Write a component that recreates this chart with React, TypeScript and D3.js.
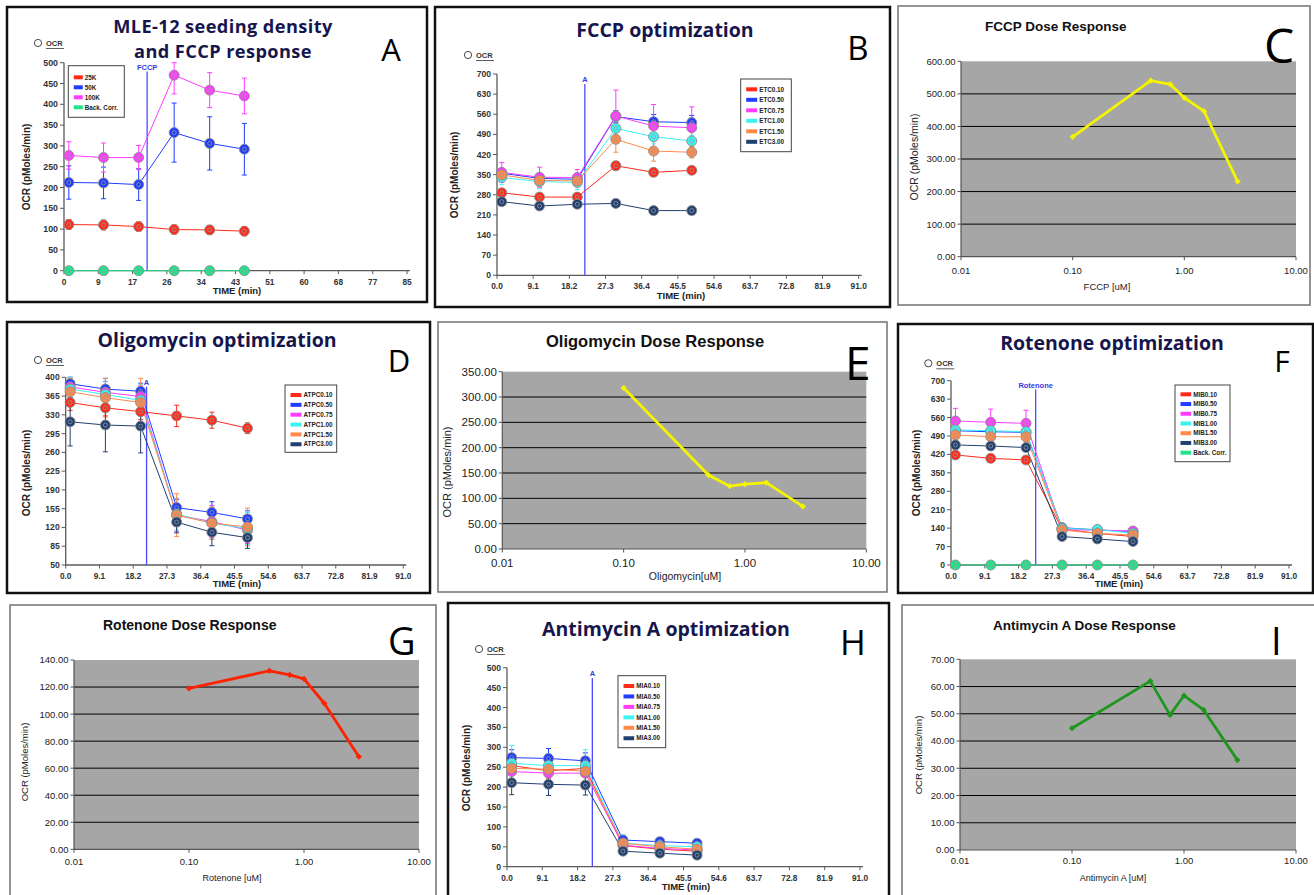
import React from 'react';
import * as d3 from 'd3';

// ---------- shared axes ----------
const timesA = [1.2, 9.8, 18.5, 27.3, 36.1, 44.7];
const xTicksA = [0, 8.5, 17, 25.5, 34, 42.5, 51, 59.5, 68, 76.5, 85];
const timesOpt = [1.2, 10.7, 20.2, 29.9, 39.4, 49.0];
const xTicksOpt = [0, 9.1, 18.2, 27.3, 36.4, 45.5, 54.6, 63.7, 72.8, 81.9, 91.0];
const doses = [0.1, 0.5, 0.75, 1.0, 1.5, 3.0];
const doseTicks = [0.01, 0.1, 1, 10];

// ---------- A: seeding density ----------
const namesA = ['25K', '50K', '100K', 'Back. Corr.'];
const ocr25K = [111, 110, 106, 99, 98, 95];
const err25K = [12, 12, 11, 11, 11, 11];
const ocr50K = [212, 211, 207, 332, 306, 292];
const err50K = [40, 38, 38, 71, 64, 62];
const ocr100K = [277, 272, 272, 470, 434, 420];
const err100K = [33, 35, 29, 45, 42, 43];
const ocrBackA = [0, 0, 0, 0, 0, 0];

// ---------- B: FCCP optimization ----------
const namesB = ['ETC0.10', 'ETC0.50', 'ETC0.75', 'ETC1.00', 'ETC1.50', 'ETC3.00'];
const etc010 = [287, 272, 272, 381, 358, 365];
const etc050 = [355, 337, 334, 552, 534, 531];
const etc075 = [358, 341, 340, 554, 519, 513];
const etc100 = [340, 326, 323, 511, 482, 467];
const etc150 = [349, 330, 328, 473, 432, 428];
const etc300 = [256, 241, 247, 250, 225, 225];
const etcErr010 = [10, 10, 10, 15, 12, 12];
const etcErr050 = [15, 15, 15, 20, 25, 25];
const etcErr075 = [34, 35, 28, 90, 75, 73];
const etcErr100 = [25, 25, 25, 30, 25, 20];
const etcErr150 = [20, 20, 20, 45, 35, 20];
const etcErr300 = [10, 8, 8, 10, 12, 12];

// ---------- D: Oligomycin optimization ----------
const namesD = ['ATPC0.10', 'ATPC0.50', 'ATPC0.75', 'ATPC1.00', 'ATPC1.50', 'ATPC3.00'];
const atpc010 = [353, 343, 336, 328, 320, 305];
const atpc050 = [388, 378, 374, 157, 148, 136];
const atpc075 = [382, 372, 364, 143, 131, 115];
const atpc100 = [378, 368, 357, 145, 128, 118];
const atpc150 = [373, 362, 353, 143, 128, 121];
const atpc300 = [317, 311, 309, 130, 111, 101];
const atpcErr010 = [15, 15, 15, 20, 15, 10];
const atpcErr050 = [15, 20, 15, 15, 20, 15];
const atpcErr075 = [25, 20, 20, 30, 30, 25];
const atpcErr100 = [25, 25, 30, 30, 30, 30];
const atpcErr150 = [25, 36, 45, 40, 30, 35];
const atpcErr300 = [45, 50, 50, 20, 25, 20];

// ---------- F: Rotenone optimization ----------
const namesF = ['MIB0.10', 'MIB0.50', 'MIB0.75', 'MIB1.00', 'MIB1.50', 'MIB3.00', 'Back. Corr.'];
const mib010 = [418, 405, 399, 137, 120, 108];
const mib050 = [510, 506, 504, 142, 133, 127];
const mib075 = [547, 542, 538, 133, 133, 129];
const mib100 = [513, 510, 506, 139, 135, 120];
const mib150 = [494, 487, 487, 133, 120, 114];
const mib300 = [456, 452, 446, 108, 99, 89];
const mibBack = [0, 0, 0, 0, 0, 0];
const mibErr010 = [15, 15, 12, 10, 10, 10];
const mibErr050 = [15, 15, 15, 10, 10, 8];
const mibErr075 = [48, 50, 50, 10, 10, 8];
const mibErr100 = [15, 15, 15, 10, 10, 8];
const mibErr150 = [20, 20, 20, 10, 10, 8];
const mibErr300 = [15, 15, 15, 10, 15, 10];

// ---------- H: Antimycin A optimization ----------
const namesH = ['MIA0.10', 'MIA0.50', 'MIA0.75', 'MIA1.00', 'MIA1.50', 'MIA3.00'];
const mia010 = [254, 241, 247, 53, 44, 39];
const mia050 = [274, 272, 266, 67, 63, 59];
const mia075 = [239, 235, 235, 54, 46, 42];
const mia100 = [260, 254, 254, 59, 53, 50];
const mia150 = [247, 245, 240, 59, 50, 44];
const mia300 = [211, 207, 205, 39, 34, 29];
const miaErr010 = [20, 20, 20, 10, 10, 8];
const miaErr050 = [20, 25, 20, 12, 10, 8];
const miaErr075 = [30, 25, 25, 10, 10, 10];
const miaErr100 = [45, 30, 40, 20, 10, 8];
const miaErr150 = [30, 30, 30, 10, 10, 8];
const miaErr300 = [30, 28, 25, 8, 8, 8];

// ---------- dose responses ----------
const fccpDose = [368, 541, 529, 488, 447, 231];
const oligoDose = [318, 146, 124, 128, 131, 84];
const rotDose = [119, 132, 129, 126, 108, 68.5];
const antiDose = [44.7, 62, 49.6, 56.7, 51.4, 33];

const RED = '#ff2a1a';
const BLUE = '#1f3cff';
const MAG = '#ff3cff';
const CYAN = '#3cf2f2';
const ORANGE = '#ff8a4a';
const NAVY = '#1f4070';
const GREEN = '#1ee58a';
const sixColors = [RED, BLUE, MAG, CYAN, ORANGE, NAVY];

const SANS = 'Liberation Sans, Arial, sans-serif';
const TFONT = '"Open Sans", sans-serif';
const NAVYTEXT = '#16164d';

type Series = { name: string; color: string; values: number[]; err: number[] };

const mk = (names: string[], vals: number[][], errs: number[][], colors: string[]): Series[] =>
  names.map((n, i) => ({ name: n, color: colors[i], values: vals[i], err: errs[i] }));

const zero = [0, 0, 0, 0, 0, 0];

const seriesA = mk(namesA, [ocr25K, ocr50K, ocr100K, ocrBackA], [err25K, err50K, err100K, zero], [RED, BLUE, MAG, GREEN]);
const seriesB = mk(namesB, [etc010, etc050, etc075, etc100, etc150, etc300],
  [etcErr010, etcErr050, etcErr075, etcErr100, etcErr150, etcErr300], sixColors);
const seriesD = mk(namesD, [atpc010, atpc050, atpc075, atpc100, atpc150, atpc300],
  [atpcErr010, atpcErr050, atpcErr075, atpcErr100, atpcErr150, atpcErr300], sixColors);
const seriesF = mk(namesF, [mib010, mib050, mib075, mib100, mib150, mib300, mibBack],
  [mibErr010, mibErr050, mibErr075, mibErr100, mibErr150, mibErr300, zero], [...sixColors, GREEN]);
const seriesH = mk(namesH, [mia010, mia050, mia075, mia100, mia150, mia300],
  [miaErr010, miaErr050, miaErr075, miaErr100, miaErr150, miaErr300], sixColors);

interface OptCfg {
  frame: number[];
  title: string[]; titleX: number; titleY: number[]; titleSize: number; titleSpacing: number;
  letter: string; letterX: number; letterY: number; letterSize: number;
  plot: number[]; // x0, x1, yBottom, yTop
  xMax: number; xTicks: number[]; xFmt: (v: number) => string;
  yDomain: number[]; yTicks: number[]; yFont: number;
  times: number[]; series: Series[];
  legend: number[]; // x, y, w, h, row0, step, swatch width
  inj: { t: number; label: string; y: number };
  ocr: number[];
  xLabelY: number; timeX: number; timeY: number; yTitleX: number; yTitleY: number;
}

function OptPanel({ c }: { c: OptCfg }) {
  const [px0, px1, pyB, pyT] = c.plot;
  const x = d3.scaleLinear().domain([0, c.xMax]).range([px0, px1]);
  const y = d3.scaleLinear().domain(c.yDomain).range([pyB, pyT]).clamp(true);
  const line = d3.line<number>().x((_, i) => x(c.times[i])).y((v) => y(v));
  const [lx, ly, lw, lh, row0, step, sw] = c.legend;
  const axis = '#5a5a5a';
  return (
    <g>
      <rect x={c.frame[0]} y={c.frame[1]} width={c.frame[2]} height={c.frame[3]} fill="#fff" stroke="#111" strokeWidth={2.5} />
      {c.title.map((t, i) => (
        <text key={t} x={c.titleX} y={c.titleY[i]} textAnchor="middle" fontFamily={TFONT} fontWeight={700}
          fontSize={c.titleSize} letterSpacing={c.titleSpacing} fill={NAVYTEXT}>{t}</text>
      ))}
      <text x={c.letterX} y={c.letterY} textAnchor="middle" fontFamily={TFONT} fontSize={c.letterSize} fill="#000">{c.letter}</text>
      <circle cx={c.ocr[0]} cy={c.ocr[1]} r={3.6} fill="none" stroke="#333" strokeWidth={0.9} />
      <text x={c.ocr[0] + 8} y={c.ocr[1] + 2.8} fontFamily={SANS} fontWeight={700} fontSize={7.5} fill="#333">OCR</text>
      <line x1={c.ocr[0] + 8} x2={c.ocr[0] + 26} y1={c.ocr[1] + 5.5} y2={c.ocr[1] + 5.5} stroke="#333" strokeWidth={0.8} />
      {/* y axis */}
      <line x1={px0} x2={px0} y1={pyB} y2={pyT} stroke={axis} strokeWidth={1.3} />
      {c.yTicks.map((v) => (
        <g key={'y' + v}>
          <line x1={px0 - 4} x2={px0} y1={y(v)} y2={y(v)} stroke={axis} strokeWidth={1} />
          <text x={px0 - 6} y={y(v) + 3} textAnchor="end" fontFamily={SANS} fontWeight={700} fontSize={c.yFont} fill="#333">{v}</text>
        </g>
      ))}
      {/* x axis */}
      <line x1={px0} x2={px1 + 3} y1={pyB} y2={pyB} stroke={axis} strokeWidth={1.3} />
      {c.xTicks.map((v) => (
        <g key={'x' + v}>
          <line x1={x(v)} x2={x(v)} y1={pyB} y2={pyB + 3.5} stroke={axis} strokeWidth={1} />
          <text x={x(v)} y={c.xLabelY} textAnchor="middle" fontFamily={SANS} fontWeight={700} fontSize={8.3} fill="#333">{c.xFmt(v)}</text>
        </g>
      ))}
      <text x={c.timeX} y={c.timeY} textAnchor="middle" fontFamily={SANS} fontWeight={700} fontSize={9.5} fill="#222">TIME (min)</text>
      <text transform={`translate(${c.yTitleX},${c.yTitleY}) rotate(-90)`} textAnchor="middle" fontFamily={SANS} fontWeight={700} fontSize={10} fill="#222">OCR (pMoles/min)</text>
      {/* injection */}
      <line x1={x(c.inj.t)} x2={x(c.inj.t)} y1={c.inj.y + 2} y2={pyB} stroke="#4a4aff" strokeWidth={1.3} />
      <text x={x(c.inj.t)} y={c.inj.y} textAnchor="middle" fontFamily={SANS} fontWeight={700} fontSize={7.5} fill="#3a3ae0">{c.inj.label}</text>
      {/* series */}
      {c.series.map((s) => (
        <g key={s.name}>
          <path d={line(s.values) || ''} fill="none" stroke={s.color} strokeWidth={1} />
          {s.values.map((v, i) => s.err[i] > 0 && (
            <g key={i} stroke={s.color} strokeWidth={1}>
              <line x1={x(c.times[i])} x2={x(c.times[i])} y1={y(v - s.err[i])} y2={y(v + s.err[i])} />
              <line x1={x(c.times[i]) - 2.5} x2={x(c.times[i]) + 2.5} y1={y(v - s.err[i])} y2={y(v - s.err[i])} />
              <line x1={x(c.times[i]) - 2.5} x2={x(c.times[i]) + 2.5} y1={y(v + s.err[i])} y2={y(v + s.err[i])} />
            </g>
          ))}
        </g>
      ))}
      {c.series.map((s) => (
        <g key={s.name + 'm'}>
          {s.values.map((v, i) => (
            <g key={i}>
              <circle cx={x(c.times[i])} cy={y(v)} r={5} fill={s.color} stroke="#8c8c8c" strokeWidth={0.9} />
              <circle cx={x(c.times[i])} cy={y(v)} r={2} fill="none" stroke="#9a9a9a" strokeWidth={0.8} />
            </g>
          ))}
        </g>
      ))}
      {/* legend */}
      <rect x={lx} y={ly} width={lw} height={lh} fill="#fff" stroke="#444" strokeWidth={1} />
      {c.series.map((s, i) => (
        <g key={s.name + 'l'}>
          <rect x={lx + 5.5} y={row0 + i * step - 2} width={sw} height={4} fill={s.color} />
          <text x={lx + 7.5 + sw} y={row0 + i * step + 2.2} fontFamily={SANS} fontWeight={700} fontSize={6.3} fill="#222">{s.name}</text>
        </g>
      ))}
    </g>
  );
}

interface DoseCfg {
  frame: number[];
  plot: number[];
  yMax: number; yTicks: number[]; tickFont: number;
  values: number[]; color: string;
  title: string; titleX: number; titleY: number; titleSize: number;
  letter: string; letterX: number; letterY: number; letterSize: number;
  xTitle: string; xTitleX: number; xTitleY: number; xTitleSize: number;
  yTitleX: number; yTitleY: number; yTitleSize: number;
  xLabelY: number;
}

function DosePanel({ c }: { c: DoseCfg }) {
  const [px0, px1, pyB, pyT] = c.plot;
  const x = d3.scaleLog().domain([0.01, 10]).range([px0, px1]);
  const y = d3.scaleLinear().domain([0, c.yMax]).range([pyB, pyT]);
  const line = d3.line<number>().x((_, i) => x(doses[i])).y((v) => y(v));
  return (
    <g>
      <rect x={c.frame[0]} y={c.frame[1]} width={c.frame[2]} height={c.frame[3]} fill="#fff" stroke="#7a7a7a" strokeWidth={1.6} />
      <text x={c.titleX} y={c.titleY} fontFamily={SANS} fontWeight={700} fontSize={c.titleSize} fill="#111">{c.title}</text>
      <rect x={px0} y={pyT} width={px1 - px0} height={pyB - pyT} fill="#a6a6a6" />
      {c.yTicks.filter((v) => v > 0 && v < c.yMax).map((v) => (
        <line key={'g' + v} x1={px0} x2={px1} y1={y(v)} y2={y(v)} stroke="#000" strokeWidth={1} />
      ))}
      <line x1={px0} x2={px0} y1={pyT} y2={pyB} stroke="#555" strokeWidth={1.2} />
      <line x1={px0} x2={px1} y1={pyB} y2={pyB} stroke="#555" strokeWidth={1.2} />
      {c.yTicks.map((v) => (
        <g key={'y' + v}>
          <line x1={px0 - 3.5} x2={px0} y1={y(v)} y2={y(v)} stroke="#555" strokeWidth={1} />
          <text x={px0 - 5.5} y={y(v) + c.tickFont * 0.36} textAnchor="end" fontFamily={SANS} fontSize={c.tickFont} fill="#222">{v.toFixed(2)}</text>
        </g>
      ))}
      {doseTicks.map((v) => (
        <g key={'x' + v}>
          <line x1={x(v)} x2={x(v)} y1={pyB} y2={pyB + 3.5} stroke="#555" strokeWidth={1} />
          <text x={x(v)} y={c.xLabelY} textAnchor="middle" fontFamily={SANS} fontSize={c.tickFont} fill="#222">{v.toFixed(2)}</text>
        </g>
      ))}
      <text x={c.xTitleX} y={c.xTitleY} textAnchor="middle" fontFamily={SANS} fontSize={c.xTitleSize} fill="#222">{c.xTitle}</text>
      <text transform={`translate(${c.yTitleX},${c.yTitleY}) rotate(-90)`} textAnchor="middle" fontFamily={SANS} fontSize={c.yTitleSize} fill="#222">OCR (pMoles/min)</text>
      <path d={line(c.values) || ''} fill="none" stroke={c.color} strokeWidth={2.8} strokeLinejoin="round" />
      {c.values.map((v, i) => (
        <rect key={i} x={x(doses[i]) - 2.2} y={y(v) - 2.2} width={4.4} height={4.4} fill={c.color}
          transform={`rotate(45 ${x(doses[i])} ${y(v)})`} />
      ))}
      <text x={c.letterX} y={c.letterY} fontFamily={TFONT} fontSize={c.letterSize} fill="#000">{c.letter}</text>
    </g>
  );
}

const fmtInt = (v: number) => String(Math.round(v));
const fmt1 = (v: number) => v.toFixed(1);

const cfgA: OptCfg = {
  frame: [7, 7, 420, 295],
  title: ['MLE-12 seeding density', 'and FCCP response'], titleX: 223, titleY: [32.5, 57.5], titleSize: 18.2, titleSpacing: 0.4,
  letter: 'A', letterX: 391, letterY: 61, letterSize: 31,
  plot: [64, 407, 270.7, 62.7], xMax: 85, xTicks: xTicksA, xFmt: fmtInt,
  yDomain: [0, 500], yTicks: d3.range(0, 501, 50), yFont: 8.8,
  times: timesA, series: seriesA,
  legend: [68.3, 65.7, 56, 51.6, 77.3, 10, 9],
  inj: { t: 20.6, label: 'FCCP', y: 69.5 }, ocr: [38, 43],
  xLabelY: 284.5, timeX: 237, timeY: 293.5, yTitleX: 30, yTitleY: 167,
};

const cfgB: OptCfg = {
  frame: [435, 7, 455, 300],
  title: ['FCCP optimization'], titleX: 665, titleY: [37], titleSize: 19.5, titleSpacing: 0,
  letter: 'B', letterX: 858, letterY: 60, letterSize: 33,
  plot: [497, 858.7, 275.3, 74], xMax: 91, xTicks: xTicksOpt, xFmt: fmt1,
  yDomain: [0, 700], yTicks: d3.range(0, 701, 70), yFont: 8.6,
  times: timesOpt, series: seriesB,
  legend: [740.7, 79, 50.6, 72.7, 89.3, 10.5, 11],
  inj: { t: 22.1, label: 'A', y: 82 }, ocr: [468, 55],
  xLabelY: 289, timeX: 681, timeY: 299, yTitleX: 458, yTitleY: 175,
};

const cfgD: OptCfg = {
  frame: [7, 322, 423, 271],
  title: ['Oligomycin optimization'], titleX: 217, titleY: [347], titleSize: 19.5, titleSpacing: 0,
  letter: 'D', letterX: 399, letterY: 372, letterSize: 31,
  plot: [65.7, 403.3, 565, 377.3], xMax: 91, xTicks: xTicksOpt, xFmt: fmt1,
  yDomain: [50, 400], yTicks: d3.range(50, 401, 35), yFont: 8.6,
  times: timesOpt, series: seriesD,
  legend: [285, 385, 51.7, 67.3, 395, 9.85, 11],
  inj: { t: 21.8, label: 'A', y: 384.5 }, ocr: [38, 360],
  xLabelY: 578.5, timeX: 237, timeY: 587, yTitleX: 30, yTitleY: 473,
};

const cfgF: OptCfg = {
  frame: [898, 324, 415, 269],
  title: ['Rotenone optimization'], titleX: 1112, titleY: [350], titleSize: 19.5, titleSpacing: 0,
  letter: 'F', letterX: 1282, letterY: 372, letterSize: 30,
  plot: [951, 1289, 565, 380.7], xMax: 91, xTicks: xTicksOpt, xFmt: fmt1,
  yDomain: [0, 700], yTicks: d3.range(0, 701, 70), yFont: 8.6,
  times: timesOpt, series: seriesF,
  legend: [1175, 385, 55, 76.7, 394.3, 9.73, 10.7],
  inj: { t: 22.8, label: 'Rotenone', y: 387.5 }, ocr: [928.3, 363.3],
  xLabelY: 578.5, timeX: 1119, timeY: 587, yTitleX: 920, yTitleY: 473,
};

const cfgH: OptCfg = {
  frame: [448, 603, 441, 300],
  title: ['Antimycin A optimization'], titleX: 666, titleY: [636], titleSize: 19.5, titleSpacing: 0,
  letter: 'H', letterX: 853, letterY: 655, letterSize: 35,
  plot: [507, 860, 866.7, 667.7], xMax: 91, xTicks: xTicksOpt, xFmt: fmt1,
  yDomain: [0, 500], yTicks: d3.range(0, 501, 50), yFont: 8.6,
  times: timesOpt, series: seriesH,
  legend: [618, 675.7, 47.7, 72, 686, 10.45, 10.7],
  inj: { t: 22.0, label: 'A', y: 676 }, ocr: [479, 649],
  xLabelY: 880.5, timeX: 686, timeY: 890, yTitleX: 469.5, yTitleY: 768,
};

const cfgC: DoseCfg = {
  frame: [898, 6, 412, 299], plot: [961, 1296, 256.7, 61.3],
  yMax: 600, yTicks: d3.range(0, 601, 100), tickFont: 9.5, values: fccpDose, color: '#f4f400',
  title: 'FCCP Dose Response', titleX: 985, titleY: 31, titleSize: 13.5,
  letter: 'C', letterX: 1264, letterY: 63, letterSize: 48,
  xTitle: 'FCCP [uM]', xTitleX: 1107, xTitleY: 290, xTitleSize: 9.5,
  yTitleX: 918, yTitleY: 157, yTitleSize: 10.5, xLabelY: 274,
};

const cfgE: DoseCfg = {
  frame: [438, 322, 449, 270], plot: [502.3, 866.3, 549, 371.7],
  yMax: 350, yTicks: d3.range(0, 351, 50), tickFont: 11.5, values: oligoDose, color: '#f4f400',
  title: 'Oligomycin Dose Response', titleX: 546, titleY: 347, titleSize: 16.5,
  letter: 'E', letterX: 845, letterY: 380, letterSize: 46,
  xTitle: 'Oligomycin[uM]', xTitleX: 685, xTitleY: 579.5, xTitleSize: 10.5,
  yTitleX: 451, yTitleY: 472, yTitleSize: 11, xLabelY: 567,
};

const cfgG: DoseCfg = {
  frame: [10, 605, 426, 300], plot: [74, 419, 849.3, 660],
  yMax: 140, yTicks: d3.range(0, 141, 20), tickFont: 9.5, values: rotDose, color: '#ff2200',
  title: 'Rotenone Dose Response', titleX: 103, titleY: 630, titleSize: 14,
  letter: 'G', letterX: 388, letterY: 655, letterSize: 38,
  xTitle: 'Rotenone [uM]', xTitleX: 232, xTitleY: 881, xTitleSize: 9,
  yTitleX: 28, yTitleY: 762, yTitleSize: 9.5, xLabelY: 865,
};

const cfgI: DoseCfg = {
  frame: [902, 605, 420, 300], plot: [960, 1296, 850, 659.3],
  yMax: 70, yTicks: d3.range(0, 71, 10), tickFont: 9.5, values: antiDose, color: '#1f961f',
  title: 'Antimycin A Dose Response', titleX: 993, titleY: 630, titleSize: 13.5,
  letter: 'I', letterX: 1271, letterY: 655, letterSize: 38,
  xTitle: 'Antimycin A [uM]', xTitleX: 1113, xTitleY: 881, xTitleSize: 9,
  yTitleX: 922, yTitleY: 755, yTitleSize: 9.5, xLabelY: 863.5,
};

export default function App() {
  return (
    <svg width={1314} height={895} style={{ position: 'absolute', left: 0, top: 0, background: '#fff' }}>
      <rect width={1314} height={895} fill="#fff" />
      <OptPanel c={cfgA} />
      <OptPanel c={cfgB} />
      <DosePanel c={cfgC} />
      <OptPanel c={cfgD} />
      <DosePanel c={cfgE} />
      <OptPanel c={cfgF} />
      <DosePanel c={cfgG} />
      <OptPanel c={cfgH} />
      <DosePanel c={cfgI} />
    </svg>
  );
}
